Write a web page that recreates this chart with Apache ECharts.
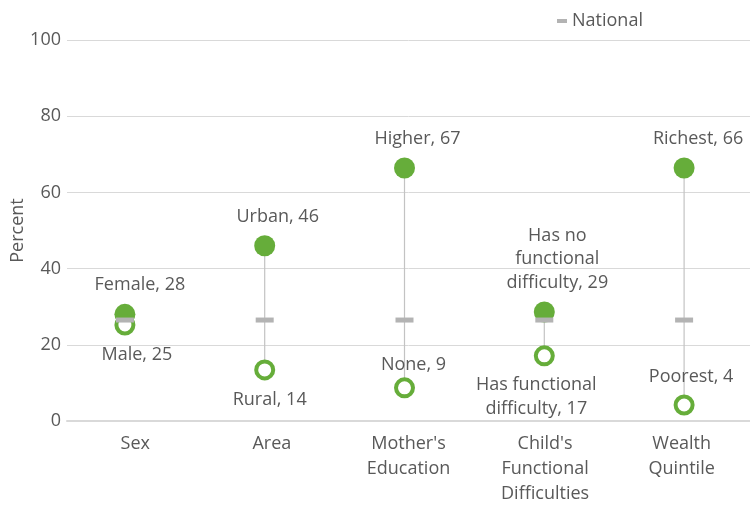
<!DOCTYPE html>
<html>
<head>
<meta charset="utf-8">
<script src="https://cdn.jsdelivr.net/npm/echarts@6/dist/echarts.min.js"></script>
<style>html,body{margin:0;padding:0;background:#fff}#chart{width:750px;height:505px}</style>
</head>
<body>
<div id="chart"></div>
<script>
// categories and values
var categories = ["Sex", "Area", "Mother's\nEducation", "Child's\nFunctional\nDifficulties", "Wealth\nQuintile"];
var highNames = ["Female", "Urban", "Higher", "Has no\nfunctional\ndifficulty", "Richest"];
var highValues = [28, 46, 66.4, 28.6, 66.4];
var highLabels = [28, 46, 67, 29, 66];
var lowNames = ["Male", "Rural", "None", "Has functional\ndifficulty", "Poorest"];
var lowValues = [25.2, 13.4, 8.7, 17.1, 4.2];
var lowLabels = [25, 14, 9, 17, 4];
var nationalValues = [26.5, 26.5, 26.5, 26.5, 26.5];

// label placement (style only)
var lowLabelPos = ["bottom", "bottom", "top", "bottom", "top"];
var highLabelShift = [15, 13, 13, 13, 14];
var lowLabelShift = [12, 5, 9, -8, 7];
var lowLabelDist = [8, 8, 1, 7, 6];

var green = '#66ad3a';
var txt = '#595959';
var font = 'Open Sans';
var fs = 18;

var myChart = echarts.init(document.getElementById('chart'));

var rangeData = categories.map(function (c, i) { return [i, lowValues[i], highValues[i]]; });

var option = {
  animation: false,
  textStyle: { fontFamily: font },
  legend: {
    data: [{ name: 'National', icon: 'rect' }],
    left: 552, top: 7,
    itemWidth: 10, itemHeight: 4, itemGap: 3,
    textStyle: { color: txt, fontSize: fs, fontFamily: font }
  },
  grid: [
    // background grid: y labels, gridlines, base axis line, category labels
    { left: 67, right: 0, top: 40, bottom: 84, outerBoundsMode: 'none' },
    // data grid: where the points sit
    { left: 55, right: -4, top: 40, bottom: 84, outerBoundsMode: 'none' }
  ],
  xAxis: [
    {
      gridIndex: 0, type: 'category', data: categories,
      axisLine: { lineStyle: { color: '#d9d9d9', width: 2 } },
      axisTick: { show: false },
      axisLabel: { color: txt, fontSize: fs, fontFamily: font, lineHeight: 25, margin: 10 }
    },
    {
      gridIndex: 1, type: 'category', data: categories, show: false
    }
  ],
  yAxis: [
    {
      gridIndex: 0, type: 'value', min: 0, max: 100, interval: 20,
      name: 'Percent', nameLocation: 'middle', nameGap: 40, nameRotate: 90,
      nameMoveOverlap: false,
      nameTextStyle: { color: txt, fontSize: fs, fontFamily: font },
      axisLine: { show: false }, axisTick: { show: false },
      axisLabel: { color: txt, fontSize: fs, fontFamily: font, margin: 6 },
      splitLine: { lineStyle: { color: '#d9d9d9', width: 1 } }
    },
    {
      gridIndex: 1, type: 'value', min: 0, max: 100, interval: 20, show: false,
      splitLine: { show: false }
    }
  ],
  series: [
    {
      name: 'range', type: 'custom', z: 1, xAxisIndex: 1, yAxisIndex: 1,
      data: rangeData,
      renderItem: function (params, api) {
        var p1 = api.coord([api.value(0), api.value(1)]);
        var p2 = api.coord([api.value(0), api.value(2)]);
        return { type: 'line', shape: { x1: p1[0], y1: p1[1], x2: p2[0], y2: p2[1] },
                 style: { stroke: '#c3c3c3', lineWidth: 1.2 } };
      }
    },
    {
      name: 'High', type: 'scatter', z: 2, xAxisIndex: 1, yAxisIndex: 1,
      symbol: 'circle', symbolSize: 21,
      itemStyle: { color: green, opacity: 1 },
      data: highValues.map(function (v, i) {
        return { value: [i, v], label: { offset: [highLabelShift[i], 0] } };
      }),
      label: {
        show: true, position: 'top', distance: 7,
        color: txt, fontSize: fs, fontFamily: font, lineHeight: 23.5, align: 'center',
        formatter: function (p) { return highNames[p.dataIndex] + ', ' + highLabels[p.dataIndex]; }
      }
    },
    {
      name: 'Low', type: 'scatter', z: 3, xAxisIndex: 1, yAxisIndex: 1,
      symbol: 'circle', symbolSize: 17,
      itemStyle: { color: '#fff', borderColor: green, borderWidth: 4, opacity: 1 },
      data: lowValues.map(function (v, i) {
        return { value: [i, v], label: { position: lowLabelPos[i], distance: lowLabelDist[i], offset: [lowLabelShift[i], 0] } };
      }),
      label: {
        show: true,
        color: txt, fontSize: fs, fontFamily: font, lineHeight: 23.5, align: 'center',
        formatter: function (p) { return lowNames[p.dataIndex] + ', ' + lowLabels[p.dataIndex]; }
      }
    },
    {
      name: 'National', type: 'scatter', z: 4, xAxisIndex: 1, yAxisIndex: 1,
      symbol: 'rect', symbolSize: [18, 5],
      itemStyle: { color: '#b3b3b3', opacity: 1 },
      data: nationalValues.map(function (v, i) { return [i, v]; })
    }
  ]
};
myChart.setOption(option);
</script>
</body>
</html>
